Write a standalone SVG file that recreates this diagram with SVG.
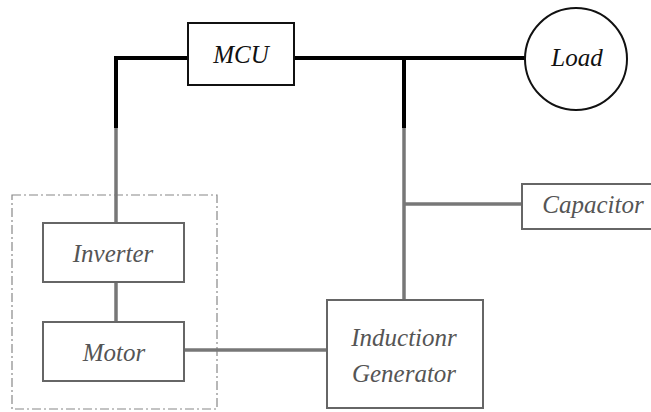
<svg xmlns="http://www.w3.org/2000/svg" width="651" height="412" viewBox="0 0 651 412">
  <style>
    .lbl { font-family: "Liberation Serif", "Times New Roman", serif; font-style: italic; font-size: 25px; text-anchor: middle; dominant-baseline: central; }
    .dark { fill: #111; }
    .grey { fill: #555; }
    .boxk { fill: #fff; stroke: #111; stroke-width: 2; }
    .boxg { fill: #fff; stroke: #666; stroke-width: 2; }
    .wk { fill: none; stroke: #000; stroke-width: 4; }
    .wg { fill: none; stroke: #777; stroke-width: 3.5; }
    .frame { fill: none; stroke: #888; stroke-width: 1.2; stroke-dasharray: 9 3 2 3; }
  </style>
  <rect width="651" height="412" fill="#fff"/>
  <g id="frame">
    <rect class="frame" x="12" y="195" width="205" height="214"/>
  </g>
  <g id="connectors">
    <polyline class="wk" points="188,58 116,58 116,128"/>
    <line class="wg" x1="116" y1="128" x2="116" y2="223"/>
    <line class="wk" x1="294" y1="58" x2="525" y2="58"/>
    <line class="wk" x1="404" y1="58" x2="404" y2="128"/>
    <line class="wg" x1="404" y1="128" x2="404" y2="300"/>
    <line class="wg" x1="404" y1="204" x2="522" y2="204"/>
    <line class="wg" x1="116" y1="282" x2="116" y2="322"/>
    <line class="wg" x1="184" y1="350" x2="327" y2="350"/>
  </g>
  <g id="mcu">
    <rect class="boxk" x="188" y="23" width="106" height="62"/>
    <text class="lbl dark" x="241" y="54">MCU</text>
  </g>
  <g id="load">
    <circle cx="576" cy="59" r="51" fill="#fff" stroke="#111" stroke-width="2"/>
    <text class="lbl dark" x="577" y="57">Load</text>
  </g>
  <g id="capacitor">
    <rect class="boxg" x="522" y="184" width="140" height="45"/>
    <text class="lbl grey" x="593" y="204">Capacitor</text>
  </g>
  <g id="inverter">
    <rect class="boxg" x="43" y="223" width="141" height="59"/>
    <text class="lbl grey" x="113" y="253">Inverter</text>
  </g>
  <g id="motor">
    <rect class="boxg" x="43" y="322" width="141" height="59"/>
    <text class="lbl grey" x="114" y="352">Motor</text>
  </g>
  <g id="generator">
    <rect class="boxg" x="327" y="300" width="156" height="108"/>
    <text class="lbl grey" x="404" y="337">Inductionr</text>
    <text class="lbl grey" x="404" y="373">Generator</text>
  </g>
</svg>
